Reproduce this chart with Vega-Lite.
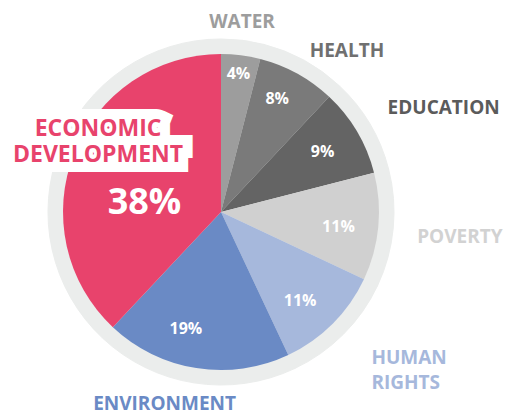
{
  "$schema": "https://vega.github.io/schema/vega-lite/v6.json",
  "width": 442,
  "height": 404,
  "autosize": "none",
  "padding": {"left": 0, "top": 10, "right": 63, "bottom": 0},
  "background": "white",
  "config": {"view": {"stroke": null}, "text": {"font": "Open Sans", "fontWeight": "bold"}},
  "data": {
    "values": [
      {"cat": "WATER", "name": "WATER", "share": 0.04, "order": 1},
      {"cat": "HEALTH", "name": "HEALTH", "share": 0.08, "order": 2},
      {"cat": "EDUCATION", "name": "EDUCATION", "share": 0.09, "order": 3},
      {"cat": "POVERTY", "name": "POVERTY", "share": 0.11, "order": 4},
      {"cat": "HUMAN RIGHTS", "name": "HUMAN\nRIGHTS", "share": 0.11, "order": 5},
      {"cat": "ENVIRONMENT", "name": "ENVIRONMENT", "share": 0.19, "order": 6},
      {"cat": "ECONOMIC DEVELOPMENT", "name": "ECONOMIC\nDEVELOPMENT", "share": 0.38, "order": 7}
    ]
  },
  "encoding": {
    "theta": {"field": "share", "type": "quantitative", "stack": true},
    "order": {"field": "order", "type": "quantitative"}
  },
  "layer": [
    {"mark": {"type": "arc", "outerRadius": 173, "color": "#ebedec", "stroke": "#ebedec", "strokeWidth": 1}},
    {
      "mark": {"type": "arc", "outerRadius": 158},
      "encoding": {
        "color": {
          "field": "cat", "type": "nominal", "legend": null,
          "scale": {
            "domain": ["WATER", "HEALTH", "EDUCATION", "POVERTY", "HUMAN RIGHTS", "ENVIRONMENT", "ECONOMIC DEVELOPMENT"],
            "range": ["#9d9d9d", "#7a7a7a", "#646464", "#d0d0d0", "#a6b8dc", "#6a8ac5", "#e8436c"]
          }
        }
      }
    },
    {"mark": {"type": "text", "radius": 139, "fontSize": 16, "color": "white"},
     "encoding": {"text": {"condition": {"test": "datum.cat === 'WATER'", "field": "share", "type": "quantitative", "format": ".0%"}, "value": ""}}},
    {"mark": {"type": "text", "radius": 127, "dx": -5, "dy": -2, "fontSize": 16, "color": "white"},
     "encoding": {"text": {"condition": {"test": "datum.cat === 'HEALTH'", "field": "share", "type": "quantitative", "format": ".0%"}, "value": ""}}},
    {"mark": {"type": "text", "radius": 118, "fontSize": 16, "color": "white"},
     "encoding": {"text": {"condition": {"test": "datum.cat === 'EDUCATION'", "field": "share", "type": "quantitative", "format": ".0%"}, "value": ""}}},
    {"mark": {"type": "text", "radius": 118, "dy": 4, "fontSize": 16, "color": "white"},
     "encoding": {"text": {"condition": {"test": "datum.cat === 'POVERTY'", "field": "share", "type": "quantitative", "format": ".0%"}, "value": ""}}},
    {"mark": {"type": "text", "radius": 119, "dx": -5, "dy": 5, "fontSize": 16, "color": "white"},
     "encoding": {"text": {"condition": {"test": "datum.cat === 'HUMAN RIGHTS'", "field": "share", "type": "quantitative", "format": ".0%"}, "value": ""}}},
    {"mark": {"type": "text", "radius": 122, "dx": -16, "dy": -3, "fontSize": 16, "color": "white"},
     "encoding": {"text": {"condition": {"test": "datum.cat === 'ENVIRONMENT'", "field": "share", "type": "quantitative", "format": ".0%"}, "value": ""}}},
    {"mark": {"type": "text", "radius": 78, "dx": -4, "dy": 20, "fontSize": 36, "color": "white"},
     "encoding": {"text": {"condition": {"test": "datum.cat === 'ECONOMIC DEVELOPMENT'", "field": "share", "type": "quantitative", "format": ".0%"}, "value": ""}}},
    {"mark": {"type": "text", "radius": 143, "dx": 10, "dy": -30, "fontSize": 23, "lineBreak": "\n", "lineHeight": 26, "align": "center", "fill": "white", "stroke": "white", "strokeWidth": 20, "strokeJoin": "miter", "strokeMiterLimit": 2},
     "encoding": {"text": {"condition": {"test": "datum.cat === 'ECONOMIC DEVELOPMENT'", "field": "name"}, "value": ""}}},
    {"mark": {"type": "text", "radius": 143, "dx": 10, "dy": -30, "fontSize": 23, "lineBreak": "\n", "lineHeight": 26, "align": "center", "color": "#e8436c"},
     "encoding": {"text": {"condition": {"test": "datum.cat === 'ECONOMIC DEVELOPMENT'", "field": "name"}, "value": ""}}},
    {"mark": {"type": "text", "radius": 192, "dx": -3, "fontSize": 19, "align": "center", "color": "#9d9d9d"},
     "encoding": {"text": {"condition": {"test": "datum.cat === 'WATER'", "field": "name"}, "value": ""}}},
    {"mark": {"type": "text", "radius": 184, "fontSize": 19, "align": "left", "color": "#707070"},
     "encoding": {"text": {"condition": {"test": "datum.cat === 'HEALTH'", "field": "name"}, "value": ""}}},
    {"mark": {"type": "text", "radius": 197, "dx": -3, "dy": -4, "fontSize": 19, "align": "left", "color": "#5b5b5b"},
     "encoding": {"text": {"condition": {"test": "datum.cat === 'EDUCATION'", "field": "name"}, "value": ""}}},
    {"mark": {"type": "text", "radius": 197, "dy": 6, "fontSize": 19, "align": "left", "color": "#d2d2d2"},
     "encoding": {"text": {"condition": {"test": "datum.cat === 'POVERTY'", "field": "name"}, "value": ""}}},
    {"mark": {"type": "text", "radius": 217, "dx": -3, "dy": -7, "fontSize": 19, "align": "left", "lineBreak": "\n", "lineHeight": 25, "color": "#a6b8dc"},
     "encoding": {"text": {"condition": {"test": "datum.cat === 'HUMAN RIGHTS'", "field": "name"}, "value": ""}}},
    {"mark": {"type": "text", "radius": 201, "dx": -25, "dy": -7, "fontSize": 19, "align": "center", "color": "#6a8ac5"},
     "encoding": {"text": {"condition": {"test": "datum.cat === 'ENVIRONMENT'", "field": "name"}, "value": ""}}}
  ]
}
